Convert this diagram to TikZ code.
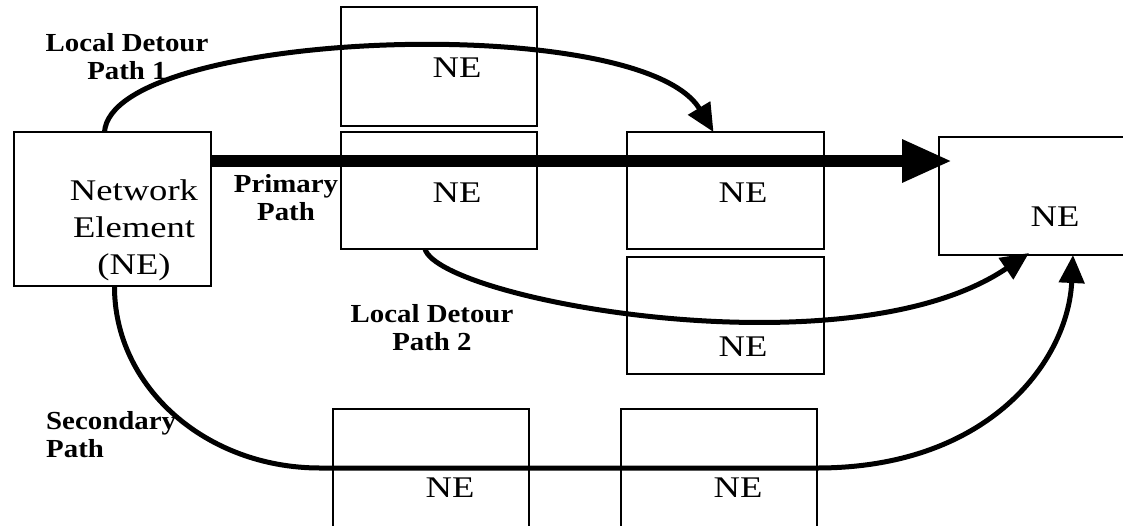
\documentclass[tikz,border=0pt]{standalone}
\usepackage{fontspec}
\setmainfont{Liberation Serif}
\newfontfamily\nefont[FakeStretch=1.22]{Liberation Serif}
\newfontfamily\lblfont[FakeStretch=1.11]{Liberation Serif}
\usetikzlibrary{arrows.meta}
\begin{document}
\begin{tikzpicture}[x=1pt,y=-1pt,
  nebox/.style={draw, line width=1.4pt, inner sep=0pt, outer sep=0pt},
  netext/.style={font=\nefont\fontsize{30}{37}\selectfont, inner sep=0pt, align=center},
  lbl/.style={font=\lblfont\bfseries\fontsize{26}{28}\selectfont, inner sep=0pt},
  pathline/.style={line width=5pt, -{Triangle[length=28pt,width=25pt]}},
  primline/.style={line width=12pt, -{Triangle[length=50pt,width=40pt]}}]
\useasboundingbox (0,0) rectangle (1123,525);
\clip (0,0) rectangle (1123,525);
% boxes
\node[nebox, minimum width=197pt, minimum height=154pt] (src) at (112.5,209) {};
\node[nebox, minimum width=196pt, minimum height=119pt] (n1) at (439,66.5) {};
\node[nebox, minimum width=196pt, minimum height=117pt] (n2) at (439,190.5) {};
\node[nebox, minimum width=197pt, minimum height=117pt] (n3) at (725.5,190.5) {};
\node[nebox, minimum width=197pt, minimum height=117pt] (n4) at (725.5,315.5) {};
\node[nebox, minimum width=201pt, minimum height=118pt] (tgt) at (1039.5,196) {};
\node[nebox, minimum width=196pt, minimum height=131pt] (b1) at (431,474.5) {};
\node[nebox, minimum width=196pt, minimum height=131pt] (b2) at (719,474.5) {};
% box texts
\node[netext] (srct) at (134,230) {Network\\Element\\(NE)};
\node[netext] (n1t) at (457,68) {NE};
\node[netext] (n2t) at (457,193) {NE};
\node[netext] (n3t) at (743,193) {NE};
\node[netext] (n4t) at (743,347) {NE};
\node[netext] (tgtt) at (1055,217) {NE};
\node[netext] (b1t) at (450,488) {NE};
\node[netext] (b2t) at (738,488) {NE};
% labels
\node[lbl, align=center] (l1) at (127,57) {Local Detour\\Path 1};
\node[lbl, align=center] (lp) at (286,198) {Primary\\Path};
\node[lbl, align=center] (l2) at (432,328) {Local Detour\\Path 2};
\node[lbl, align=left, anchor=west] (ls) at (46,435) {Secondary\\Path};
% connectors
\draw[primline] ([yshift=-29pt]src.north east) -- ([xshift=13pt,yshift=-24pt]tgt.north west);
\draw[pathline] ([xshift=-8pt]src.north) .. controls (112,30) and (640,10) .. ([xshift=-12pt]n3.north);
\draw[pathline] ([xshift=-14pt]n2.south) .. controls (440,300) and (850,375) .. ([xshift=90pt,yshift=2pt]tgt.south west);
\coordinate (s1) at (320,468);
\coordinate (s2) at (817,468);
\draw[pathline] ([xshift=2pt]src.south) .. controls (114,387) and (206,468) .. (s1) -- (s2) .. controls (990,468) and (1068,360) .. ([xshift=134pt]tgt.south west);
\end{tikzpicture}
\end{document}
